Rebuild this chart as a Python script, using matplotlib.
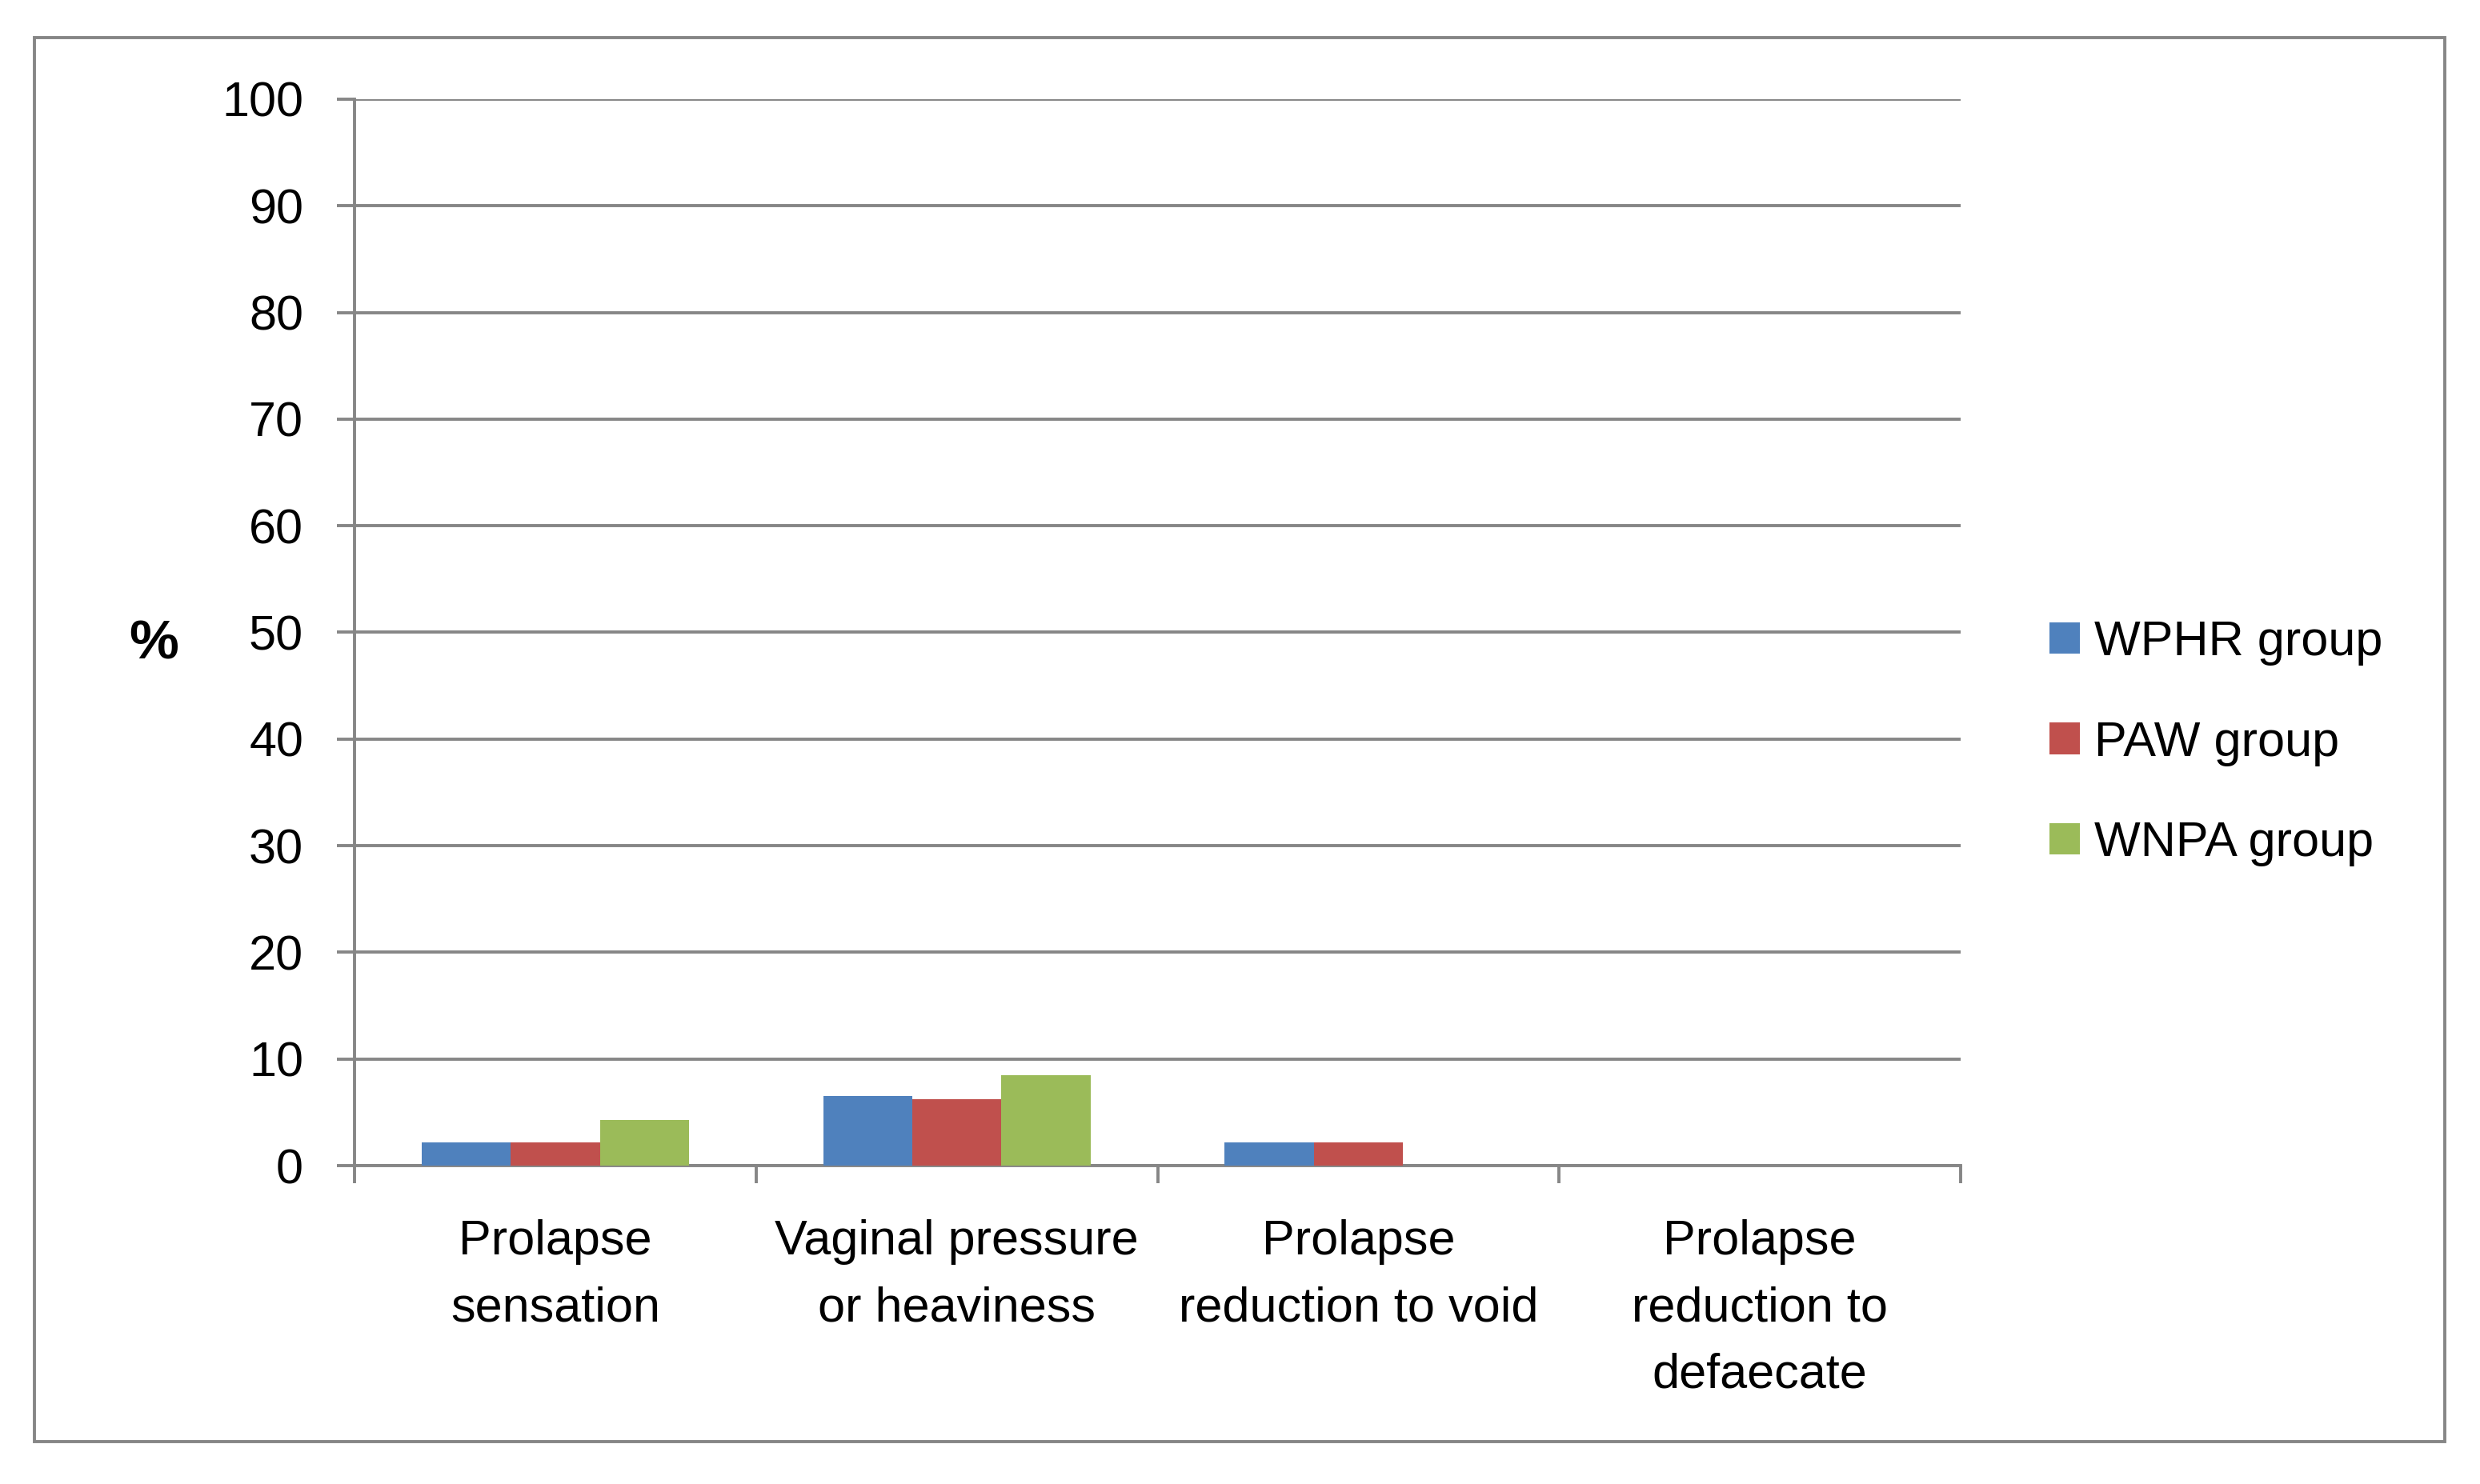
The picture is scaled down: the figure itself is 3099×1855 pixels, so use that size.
import numpy as np
import matplotlib
matplotlib.use('Agg')
from matplotlib import pyplot as plt
from matplotlib.patches import Rectangle

# Les données
categories = ['Prolapse\nsensation', 'Vaginal pressure\nor heaviness',
              'Prolapse\nreduction to void', 'Prolapse\nreduction to\ndefaecate']
groups = ['WPHR group', 'PAW group', 'WNPA group']
wphr = [2.2, 6.5, 2.2, 0]
paw = [2.2, 6.2, 2.2, 0]
wnpa = [4.3, 8.5, 0, 0]
couleurs = ['#4F81BD', '#C0504D', '#9BBB59']
yticks = list(range(0, 101, 10))

plt.rcParams['font.family'] = ['Liberation Sans', 'DejaVu Sans']
fs = 44
gris = '#868686'
lw = 2.8

fig = plt.figure(figsize=(30.99, 18.55), dpi=100)
ax = fig.add_axes([443/3099, 1 - 1457/1855, (2450-443)/3099, (1457-124)/1855])

x = np.arange(len(categories))
w = 0.222
for i, (vals, nom) in enumerate(zip([wphr, paw, wnpa], groups)):
    ax.bar(x + (i - 1) * w, vals, width=w, color=couleurs[i], label=nom, zorder=3)

ax.set_xlim(-0.5, len(categories) - 0.5)
ax.set_ylim(0, 100)
ax.set_yticks(yticks)
ax.set_yticklabels([str(t) for t in yticks], fontsize=fs)
ax.grid(axis='y', color=gris, linewidth=lw, zorder=0)
ax.set_axisbelow(True)

# étiquettes centrées, traits aux limites des catégories
ax.set_xticks(x)
ax.set_xticklabels(categories, fontsize=fs, linespacing=1.6)
ax.set_xticks(np.arange(-0.5, len(categories)), minor=True)
ax.tick_params(axis='x', which='major', length=0, pad=48)
ax.tick_params(axis='x', which='minor', length=16, width=lw, color=gris, direction='out')
ax.tick_params(axis='y', length=16, width=lw, color=gris, pad=30)

for s in ['top', 'right']:
    ax.spines[s].set_visible(False)
for s in ['left', 'bottom']:
    ax.spines[s].set_color(gris)
    ax.spines[s].set_linewidth(lw)

ax.set_ylabel('%', fontsize=50, fontweight='bold', rotation=0, ha='center', va='center')
ax.yaxis.set_label_coords(-0.125, 0.489)

fig.legend(loc='center left', bbox_to_anchor=(2561/3099, 1 - 929/1855), frameon=False,
           fontsize=fs, handlelength=0.62, handleheight=0.62, handletextpad=0.3,
           labelspacing=1.12, borderpad=0, borderaxespad=0)

# cadre extérieur
fig.patches.append(Rectangle((43/3099, 1 - 1802/1855), (3055-43)/3099, (1802-47)/1855,
                             transform=fig.transFigure, fill=False, edgecolor=gris, linewidth=2.8))

fig.savefig('out.png', dpi=100)
